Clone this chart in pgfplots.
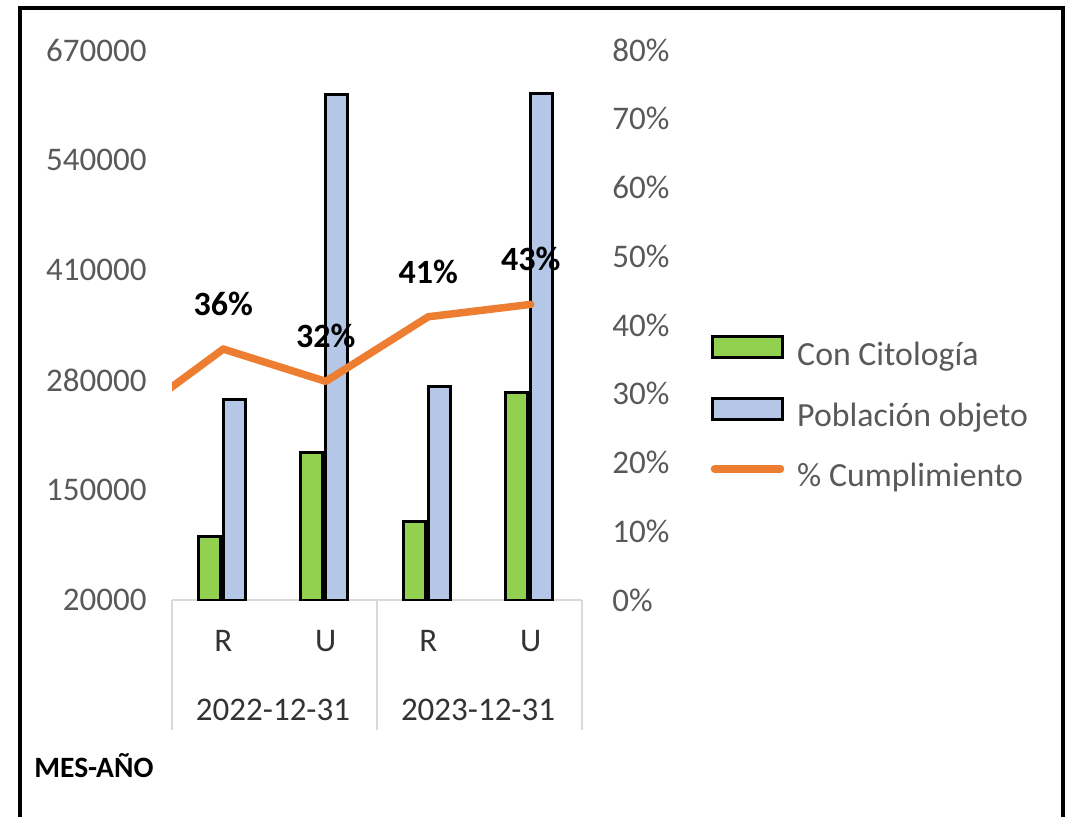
\documentclass[border=0pt]{standalone}
\usepackage{pgfplots}
\usepackage{pgfplotstable}
\pgfplotsset{compat=1.18}
\usepackage{fontspec}
\setmainfont{Carlito}

\definecolor{cgreen}{HTML}{92D050}
\definecolor{cblue}{HTML}{B4C7E7}
\definecolor{corange}{HTML}{ED7D31}
\definecolor{tickgray}{HTML}{595959}
\definecolor{sepgray}{HTML}{D9D9D9}

\newcommand\tickfont{\fontsize{16.5}{19}\selectfont}

% x: 0=R 2022, 1=U 2022, 2=R 2023, 3=U 2023
\pgfplotstableread{
x  con    pob
0  95600  257500
1  194900 618000
2  112200 272900
3  265800 619000
}\bars

\pgfplotstableread{
x  pct   lbl
0  36.5  36
1  31.8  32
2  41.2  41
3  43.0  43
}\pct

\begin{document}
\begin{tikzpicture}
\useasboundingbox (0pt,0pt) rectangle (537pt,408pt);
\draw[line width=2pt] (10pt,-5pt) -- (10pt,404pt) -- (531.5pt,404pt) -- (531.5pt,-5pt);

\begin{axis}[
  name=ax1,
  at={(86pt,108pt)}, anchor=south west,
  width=205pt, height=275pt, scale only axis,
  xmin=-0.5, xmax=3.5,
  ymin=20000, ymax=670000,
  ytick={20000,150000,280000,410000,540000,670000},
  scaled y ticks=false,
  yticklabel={\pgfmathprintnumber[fixed,precision=0,1000 sep={},assume math mode=true]{\tick}},
  axis x line*=bottom, axis y line*=left,
  y axis line style={draw=none},
  x axis line style={draw=sepgray, line width=1pt, -},
  major tick length=0pt,
  xtick={0,1,2,3}, xticklabels={R,U,R,U},
  xticklabel style={anchor=base, inner sep=0pt, yshift=-25.5pt, font=\tickfont, text=black!80},
  yticklabel style={anchor=east, inner sep=0pt, xshift=-12.5pt, font=\tickfont, text=tickgray},
  ybar, bar width=11pt,
]
\addplot[fill=cgreen, draw=black, line width=1.5pt, bar shift=-7pt] table[x=x,y=con] {\bars};
\addplot[fill=cblue, draw=black, line width=1.5pt, bar shift=5.5pt] table[x=x,y=pob] {\bars};
\end{axis}

\begin{axis}[
  at={(86pt,108pt)}, anchor=south west,
  width=205pt, height=275pt, scale only axis,
  xmin=-0.5, xmax=3.5,
  ymin=0, ymax=80,
  ytick={0,10,...,80},
  axis x line=none, axis y line*=right,
  y axis line style={draw=none},
  major tick length=0pt,
  yticklabel={\pgfmathprintnumber[fixed,precision=0,assume math mode=true]{\tick}\%},
  yticklabel style={anchor=west, inner sep=0pt, xshift=15pt, font=\tickfont, text=tickgray},
  legend style={at={(1.313,0.482)}, anchor=north west, draw=none, fill=none,
    inner sep=0pt, font=\fontsize{16.9}{19}\selectfont, text=tickgray,
    row sep=12.25pt, column sep=6.5pt,
    nodes={inner sep=0pt, text height=11pt, text depth=3.5pt}},
  legend cell align=left,
]
% line enters from the left edge (previous period, clipped)
\addplot[corange, line width=3.75pt, line cap=round, line join=round, forget plot]
  coordinates {(-1,25.5) (0,36.5)};
\addplot[corange, line width=3.75pt, line cap=round, line join=round, forget plot,
  point meta=explicit,
  nodes near coords={\pgfmathprintnumber[fixed,precision=0,assume math mode=true]{\pgfplotspointmeta}\%},
  nodes near coords align={center},
  every node near coord/.append style={font=\bfseries\fontsize{17}{19}\selectfont,
    text=black, anchor=center, yshift=22.5pt}]
  table[x=x,y=pct,meta=lbl] {\pct};

\addlegendimage{legend image code/.code={\draw[fill=cgreen,draw=black,line width=1.5pt] (0pt,0pt) rectangle (35pt,10.5pt);}}
\addlegendentry{Con Citología}
\addlegendimage{legend image code/.code={\draw[fill=cblue,draw=black,line width=1.5pt] (0pt,0pt) rectangle (35pt,10.5pt);}}
\addlegendentry{Población objeto}
\addlegendimage{legend image code/.code={\path[draw=none,line width=1.5pt] (0pt,0pt) rectangle (35pt,10.5pt);
  \draw[corange,line width=3.75pt,line cap=round] (1pt,5.25pt) -- (34pt,5.25pt);}}
\addlegendentry{\% Cumplimiento}
\end{axis}

% category separators and outer category labels
\draw[sepgray, line width=1pt] (86pt,108pt) -- (86pt,43pt);
\draw[sepgray, line width=1pt] (188.5pt,108pt) -- (188.5pt,43pt);
\draw[sepgray, line width=1pt] (291pt,108pt) -- (291pt,43pt);
\node[anchor=base, inner sep=0pt, font=\tickfont, text=black!80] at (136.5pt,48pt) {2022-12-31};
\node[anchor=base, inner sep=0pt, font=\tickfont, text=black!80] at (239pt,48pt) {2023-12-31};
\node[anchor=base west, inner sep=0pt, font=\bfseries\fontsize{14.75}{17}\selectfont] at (17pt,19.5pt) {MES-AÑO};
\end{tikzpicture}
\end{document}
